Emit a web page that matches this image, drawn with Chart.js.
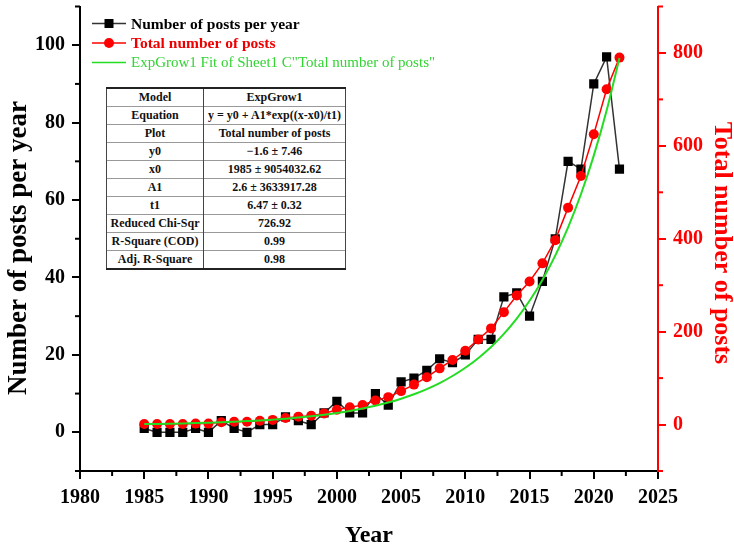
<!DOCTYPE html>
<html>
<head>
<meta charset="utf-8">
<script src="https://cdn.jsdelivr.net/npm/chart.js@4.4.0/dist/chart.umd.min.js"></script>
<style>
  html, body { margin: 0; padding: 0; background: #fff; }
  #wrap { position: relative; width: 734px; height: 545px; overflow: hidden; }
  #fitTable {
    position: absolute; left: 106px; top: 87px; width: 240px;
    border-collapse: collapse; background: #fff; color: #111;
    font-family: "Liberation Serif", "Times New Roman", serif;
    font-size: 12px; font-weight: bold;
  }
  #fitTable td { height: 17px; line-height: 17px; padding: 0; text-align: center; border-top: 1px solid #999; }
  #fitTable tr:first-child td { border-top: 2px solid #222; }
  #fitTable tr:last-child td { border-bottom: 2px solid #222; }
  #fitTable td:first-child { width: 96px; border-left: 1px solid #444; border-right: 1px solid #444; }
  #fitTable td:last-child { border-right: 1px solid #444; }
</style>
</head>
<body>
<div id="wrap">
  <canvas id="grafico" width="734" height="545"></canvas>
  <table id="fitTable">
    <tr><td>Model</td><td>ExpGrow1</td></tr>
    <tr><td>Equation</td><td>y = y0 + A1*exp((x-x0)/t1)</td></tr>
    <tr><td>Plot</td><td>Total number of posts</td></tr>
    <tr><td>y0</td><td>−1.6 ± 7.46</td></tr>
    <tr><td>x0</td><td>1985 ± 9054032.62</td></tr>
    <tr><td>A1</td><td>2.6 ± 3633917.28</td></tr>
    <tr><td>t1</td><td>6.47 ± 0.32</td></tr>
    <tr><td>Reduced Chi-Sqr</td><td>726.92</td></tr>
    <tr><td>R-Square (COD)</td><td>0.99</td></tr>
    <tr><td>Adj. R-Square</td><td>0.98</td></tr>
  </table>
</div>
<script>
const anos = [1985, 1986, 1987, 1988, 1989, 1990, 1991, 1992, 1993, 1994,
  1995, 1996, 1997, 1998, 1999, 2000, 2001, 2002, 2003, 2004,
  2005, 2006, 2007, 2008, 2009, 2010, 2011, 2012, 2013, 2014,
  2015, 2016, 2017, 2018, 2019, 2020, 2021, 2022];
const postsPorAno = [1, 0, 0, 0, 1, 0, 3, 1, 0, 2,
  2, 4, 3, 2, 5, 8, 5, 5, 10, 7,
  13, 14, 16, 19, 18, 20, 24, 24, 35, 36,
  30, 39, 50, 70, 68, 90, 97, 68];
const postsTotal = [1, 1, 1, 1, 2, 2, 5, 6, 6, 8,
  10, 14, 17, 19, 24, 32, 37, 42, 52, 59,
  72, 86, 102, 121, 139, 159, 183, 207, 242, 278,
  308, 347, 397, 467, 535, 625, 722, 790];
const ajuste = [1.0, 1.4, 1.9, 2.5, 3.2, 4.0, 5.0, 6.1, 7.4, 8.8,
  10.6, 12.6, 15.0, 17.8, 21.0, 24.8, 29.2, 34.4, 40.4, 47.4,
  55.6, 65.1, 76.3, 89.3, 104.5, 122.2, 142.9, 167.0, 195.2, 228.1,
  266.5, 311.3, 363.6, 424.6, 495.8, 578.9, 675.9, 789.1];
const rotulos = ['Number of posts per year', 'Total number of posts',
  'ExpGrow1 Fit of Sheet1 C"Total number of posts"'];
const titulos = { x: 'Year', y: 'Number of posts per year', y2: 'Total number of posts' };

const serif = '"Liberation Serif", "Times New Roman", serif';
const pts = vals => vals.map((v, i) => ({ x: anos[i], y: v }));
const semMinor = cor => c => (c.tick && c.tick.label === '' ? 'rgba(0,0,0,0)' : cor);

// legenda dentro da area do grafico, como no Origin
const legendaInterna = {
  id: 'legendaInterna',
  afterDraw(chart) {
    const c = chart.ctx;
    const a = chart.chartArea;
    const estilos = [
      { cor: '#000', linha: '#333', font: 'bold 15.5px ' + serif },
      { cor: '#e00', linha: '#f00', font: 'bold 15.5px ' + serif },
      { cor: '#33d433', linha: '#22dd22', font: '15px ' + serif }
    ];
    c.save();
    chart.data.datasets.forEach((ds, i) => {
      const s = estilos[i];
      const y = a.top + 17 + i * 19.5;
      const x0 = a.left + 12;
      c.strokeStyle = s.linha;
      c.lineWidth = 1.5;
      c.beginPath(); c.moveTo(x0, y); c.lineTo(x0 + 34, y); c.stroke();
      c.fillStyle = ds.pointBackgroundColor;
      if (ds.pointRadius > 0) {
        if (ds.pointStyle === 'rect') c.fillRect(x0 + 12.5, y - 4.5, 9, 9);
        else { c.beginPath(); c.arc(x0 + 17, y, 5, 0, Math.PI * 2); c.fill(); }
      }
      c.fillStyle = s.cor;
      c.font = s.font;
      c.textBaseline = 'middle';
      c.fillText(ds.label, x0 + 39, y + 1);
    });
    c.restore();
  }
};

// ticks menores (curtos) e titulos dos eixos
const eixosOrigin = {
  id: 'eixosOrigin',
  afterDraw(chart) {
    const c = chart.ctx;
    const { x, y, y2 } = chart.scales;
    c.save();
    c.lineWidth = 2;
    c.strokeStyle = '#000';
    x.ticks.forEach(t => {
      if (t.label !== '') return;
      const px = x.getPixelForValue(t.value);
      c.beginPath(); c.moveTo(px, x.top); c.lineTo(px, x.top + 5); c.stroke();
    });
    y.ticks.forEach(t => {
      if (t.label !== '') return;
      const py = y.getPixelForValue(t.value);
      c.beginPath(); c.moveTo(y.right, py); c.lineTo(y.right - 5, py); c.stroke();
    });
    c.strokeStyle = '#f00';
    y2.ticks.forEach(t => {
      if (t.label !== '') return;
      const py = y2.getPixelForValue(t.value);
      c.beginPath(); c.moveTo(y2.left, py); c.lineTo(y2.left + 5, py); c.stroke();
    });

    c.textAlign = 'center';
    c.textBaseline = 'alphabetic';
    c.fillStyle = '#000';
    c.save();
    c.font = 'bold 27px ' + serif;
    c.translate(26, 248); c.rotate(-Math.PI / 2);
    c.fillText(titulos.y, 0, 0);
    c.restore();
    c.save();
    c.font = 'bold 26px ' + serif;
    c.translate(715, 243); c.rotate(Math.PI / 2);
    c.fillStyle = '#f00';
    c.fillText(titulos.y2, 0, 0);
    c.restore();
    c.font = 'bold 24px ' + serif;
    c.fillText(titulos.x, (chart.chartArea.left + chart.chartArea.right) / 2, 542);
    c.restore();
  }
};

const ctx = document.getElementById('grafico').getContext('2d');
new Chart(ctx, {
  type: 'line',
  data: {
    datasets: [{
      label: rotulos[0],
      data: pts(postsPorAno),
      yAxisID: 'y',
      borderColor: '#333',
      borderWidth: 1.5,
      pointStyle: 'rect',
      pointRadius: 6.5,
      pointBackgroundColor: '#000',
      pointBorderWidth: 0,
      order: 3
    }, {
      label: rotulos[1],
      data: pts(postsTotal),
      yAxisID: 'y2',
      borderColor: '#f00',
      borderWidth: 1.5,
      pointStyle: 'circle',
      pointRadius: 5,
      pointBackgroundColor: '#f00',
      pointBorderWidth: 0,
      order: 2
    }, {
      label: rotulos[2],
      data: pts(ajuste),
      yAxisID: 'y2',
      borderColor: '#22dd22',
      borderWidth: 2,
      pointRadius: 0,
      pointBackgroundColor: '#22dd22',
      cubicInterpolationMode: 'monotone',
      order: 1
    }]
  },
  options: {
    responsive: false,
    animation: false,
    layout: { padding: { top: 5, left: 0, right: 0, bottom: 0 } },
    plugins: { legend: { display: false }, tooltip: { enabled: false } },
    scales: {
      x: {
        type: 'linear',
        min: 1980, max: 2025,
        afterFit: s => { s.height = 74; s.paddingLeft = 0; s.paddingRight = 0; },
        ticks: {
          stepSize: 2.5, autoSkip: false, maxRotation: 0, padding: 7,
          color: '#000', font: { family: serif, size: 20, weight: 'bold' },
          callback: v => (v % 5 === 0 ? v : '')
        },
        grid: { drawOnChartArea: false, tickLength: 8, color: '#000', lineWidth: 2, tickColor: semMinor('#000') },
        border: { color: '#000', width: 2 }
      },
      y: {
        position: 'left',
        min: -10, max: 110,
        afterFit: s => { s.width = 80; s.paddingTop = 0; s.paddingBottom = 0; },
        ticks: {
          stepSize: 10, padding: 7,
          color: '#000', font: { family: serif, size: 20, weight: 'bold' },
          callback: v => (v % 20 === 0 ? v : '')
        },
        grid: { drawOnChartArea: false, tickLength: 8, color: '#000', lineWidth: 2, tickColor: semMinor('#000') },
        border: { color: '#000', width: 2 }
      },
      y2: {
        position: 'right',
        min: -100, max: 900,
        afterFit: s => { s.width = 76; s.paddingTop = 0; s.paddingBottom = 0; },
        ticks: {
          stepSize: 100, padding: 7,
          color: '#f00', font: { family: serif, size: 20, weight: 'bold' },
          callback: v => (v % 200 === 0 ? v : '')
        },
        grid: { drawOnChartArea: false, tickLength: 8, color: '#f00', lineWidth: 2, tickColor: semMinor('#f00') },
        border: { color: '#f00', width: 2 }
      }
    }
  },
  plugins: [legendaInterna, eixosOrigin]
});
</script>
</body>
</html>
